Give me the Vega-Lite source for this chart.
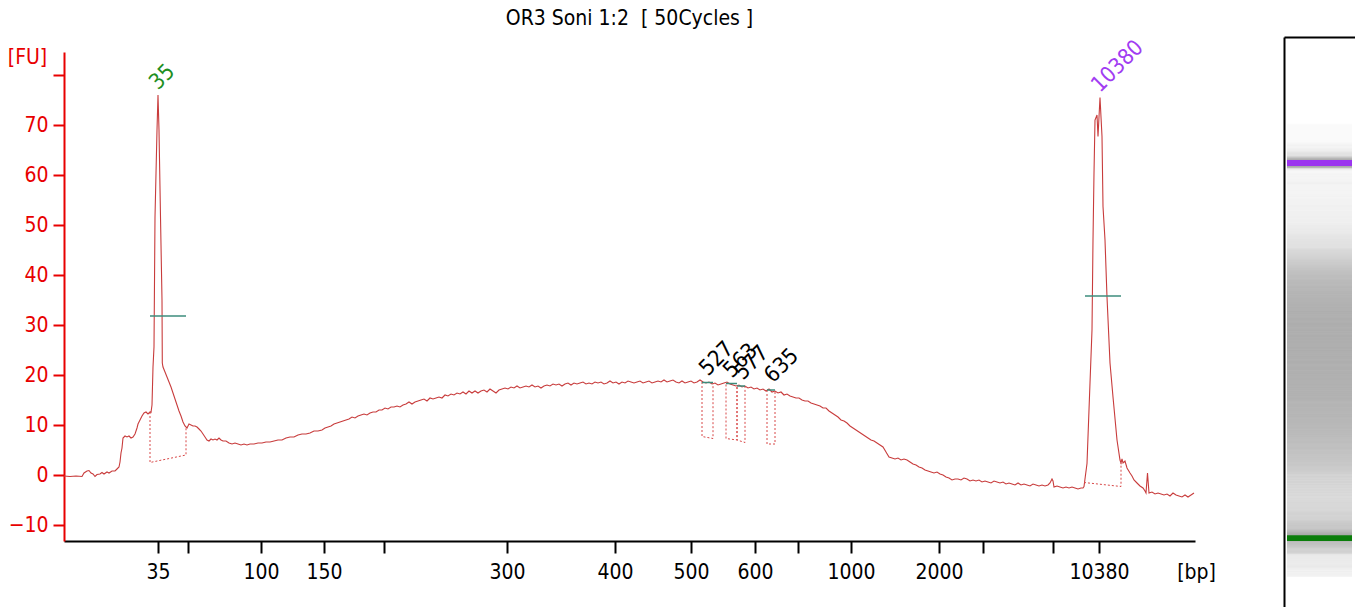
{
  "$schema": "https://vega.github.io/schema/vega-lite/v6.json",
  "description": "Bioanalyzer electropherogram with gel lane",
  "width": 1131,
  "height": 489,
  "autosize": {"type": "none"},
  "padding": {"left": 64, "top": 52, "right": 160, "bottom": 66},
  "title": {
    "text": "OR3 Soni 1:2 \u00a0[ 50Cycles ]",
    "font": "DejaVu Sans Condensed, DejaVu Sans",
    "fontSize": 21,
    "fontWeight": "normal",
    "color": "black",
    "anchor": "middle",
    "offset": 7
  },
  "config": {"view": {"stroke": null}, "axis": {"grid": false}},
  "datasets": {
    "trace": [
      {"t":0,"fu":-0.2},{"t":6,"fu":-0.3},{"t":12,"fu":-0.2},{"t":18,"fu":-0.3},{"t":20,"fu":0.4},{"t":23,"fu":0.8},{"t":25,"fu":0.9},{"t":27,"fu":0.4},{"t":29,"fu":0.2},{"t":31,"fu":-0.3},
      {"t":33,"fu":0.1},{"t":36,"fu":0.2},{"t":38,"fu":0.5},{"t":40,"fu":0.2},{"t":43,"fu":0.6},{"t":45,"fu":0.4},{"t":48,"fu":0.8},{"t":51,"fu":0.8},{"t":53,"fu":1.2},{"t":55,"fu":1.6},
      {"t":56,"fu":2.6},{"t":57,"fu":4.4},{"t":58,"fu":5.4},{"t":59,"fu":7.4},{"t":61,"fu":7.8},{"t":63,"fu":7.6},{"t":65,"fu":7.8},{"t":67,"fu":7.4},{"t":69,"fu":7.6},{"t":71,"fu":8.2},
      {"t":73,"fu":9.4},{"t":74,"fu":10.2},{"t":76,"fu":11.0},{"t":78,"fu":11.8},{"t":80,"fu":12.4},{"t":82,"fu":12.6},{"t":84,"fu":12.2},{"t":86,"fu":12.6},{"t":87,"fu":12.5},{"t":88,"fu":14.0},
      {"t":89,"fu":21.6},{"t":90,"fu":25.6},{"t":91,"fu":51.6},{"t":93,"fu":69.0},{"t":94,"fu":76.0},{"t":95,"fu":69.0},{"t":96.5,"fu":51.6},{"t":98,"fu":35.0},{"t":98.3,"fu":22.4},{"t":99,"fu":21.6},
      {"t":101,"fu":20.6},{"t":103,"fu":19.6},{"t":105,"fu":18.6},{"t":107,"fu":17.6},{"t":109,"fu":16.4},{"t":111,"fu":15.2},{"t":113,"fu":14.0},{"t":115,"fu":12.8},{"t":117,"fu":11.8},{"t":119,"fu":10.6},
      {"t":121,"fu":9.8},{"t":123,"fu":9.4},{"t":124,"fu":9.8},{"t":125,"fu":10.2},{"t":127,"fu":10.0},{"t":129,"fu":9.8},{"t":131,"fu":9.8},{"t":133,"fu":9.6},{"t":135,"fu":9.2},{"t":137,"fu":8.8},
      {"t":139,"fu":8.2},{"t":141,"fu":7.6},{"t":143,"fu":7.0},{"t":145,"fu":6.8},{"t":147,"fu":7.2},{"t":149,"fu":7.0},{"t":151,"fu":7.2},{"t":153,"fu":7.0},{"t":155,"fu":7.4},{"t":157,"fu":7.0},
      {"t":159,"fu":6.8},{"t":162,"fu":6.8},{"t":165,"fu":6.4},{"t":168,"fu":6.2},{"t":171,"fu":6.4},{"t":174,"fu":6.2},{"t":177,"fu":6.0},{"t":180,"fu":6.2},{"t":183,"fu":6.0},{"t":186,"fu":6.2},
      {"t":190,"fu":6.2},{"t":194,"fu":6.4},{"t":198,"fu":6.4},{"t":202,"fu":6.6},{"t":206,"fu":6.6},{"t":210,"fu":6.8},{"t":214,"fu":7.0},{"t":218,"fu":7.0},{"t":222,"fu":7.4},{"t":226,"fu":7.6},
      {"t":230,"fu":7.6},{"t":234,"fu":8.0},{"t":238,"fu":8.2},{"t":242,"fu":8.2},{"t":246,"fu":8.4},{"t":250,"fu":8.8},{"t":254,"fu":8.8},{"t":258,"fu":9.0},{"t":261,"fu":9.4},{"t":264,"fu":9.6},
      {"t":267,"fu":9.8},{"t":270,"fu":10.2},{"t":273,"fu":10.4},{"t":276,"fu":10.6},{"t":279,"fu":10.8},{"t":282,"fu":11.0},{"t":285,"fu":11.2},{"t":288,"fu":11.6},{"t":291,"fu":11.4},{"t":294,"fu":11.8},
      {"t":297,"fu":12.0},{"t":300,"fu":12.2},{"t":303,"fu":12.0},{"t":306,"fu":12.4},{"t":309,"fu":12.6},{"t":312,"fu":12.6},{"t":315,"fu":13.0},{"t":318,"fu":13.0},{"t":321,"fu":13.4},{"t":324,"fu":13.2},
      {"t":327,"fu":13.6},{"t":330,"fu":13.6},{"t":333,"fu":13.8},{"t":336,"fu":13.6},{"t":339,"fu":14.0},{"t":342,"fu":14.2},{"t":345,"fu":14.6},{"t":348,"fu":14.2},{"t":351,"fu":14.6},{"t":354,"fu":14.8},
      {"t":357,"fu":15.0},{"t":360,"fu":15.2},{"t":363,"fu":14.8},{"t":366,"fu":15.4},{"t":369,"fu":15.2},{"t":372,"fu":15.4},{"t":375,"fu":15.6},{"t":378,"fu":15.4},{"t":381,"fu":16.0},{"t":384,"fu":15.8},
      {"t":387,"fu":16.2},{"t":390,"fu":16.0},{"t":393,"fu":16.4},{"t":396,"fu":16.2},{"t":399,"fu":16.6},{"t":402,"fu":16.2},{"t":405,"fu":16.8},{"t":408,"fu":16.4},{"t":411,"fu":16.8},{"t":414,"fu":16.4},
      {"t":417,"fu":16.8},{"t":420,"fu":17.0},{"t":423,"fu":16.6},{"t":426,"fu":17.2},{"t":429,"fu":16.8},{"t":432,"fu":16.4},{"t":435,"fu":17.0},{"t":438,"fu":17.2},{"t":441,"fu":17.4},{"t":444,"fu":17.2},
      {"t":447,"fu":17.6},{"t":450,"fu":17.4},{"t":453,"fu":17.8},{"t":456,"fu":17.4},{"t":459,"fu":17.6},{"t":462,"fu":17.8},{"t":465,"fu":17.6},{"t":468,"fu":18.0},{"t":471,"fu":17.6},{"t":474,"fu":17.8},
      {"t":477,"fu":17.4},{"t":480,"fu":17.8},{"t":483,"fu":18.0},{"t":486,"fu":17.8},{"t":489,"fu":18.2},{"t":492,"fu":18.0},{"t":495,"fu":18.2},{"t":498,"fu":17.8},{"t":501,"fu":18.2},{"t":504,"fu":18.4},
      {"t":507,"fu":18.0},{"t":510,"fu":18.4},{"t":513,"fu":18.2},{"t":516,"fu":18.4},{"t":519,"fu":18.6},{"t":522,"fu":18.2},{"t":525,"fu":18.4},{"t":528,"fu":18.2},{"t":531,"fu":18.6},{"t":534,"fu":18.4},
      {"t":537,"fu":18.6},{"t":540,"fu":18.2},{"t":543,"fu":18.4},{"t":546,"fu":18.8},{"t":549,"fu":18.4},{"t":552,"fu":18.6},{"t":555,"fu":18.2},{"t":558,"fu":18.6},{"t":561,"fu":18.4},{"t":564,"fu":18.8},
      {"t":567,"fu":18.6},{"t":570,"fu":18.4},{"t":573,"fu":18.6},{"t":576,"fu":18.8},{"t":579,"fu":18.4},{"t":582,"fu":18.6},{"t":585,"fu":18.8},{"t":588,"fu":18.4},{"t":591,"fu":18.6},{"t":594,"fu":18.8},
      {"t":597,"fu":18.6},{"t":600,"fu":19.0},{"t":603,"fu":18.6},{"t":606,"fu":18.8},{"t":609,"fu":19.0},{"t":612,"fu":18.6},{"t":615,"fu":18.4},{"t":618,"fu":18.8},{"t":621,"fu":18.4},{"t":624,"fu":18.6},
      {"t":627,"fu":18.8},{"t":630,"fu":18.4},{"t":633,"fu":18.6},{"t":636,"fu":19.0},{"t":639,"fu":18.6},{"t":642,"fu":18.4},{"t":645,"fu":18.6},{"t":648,"fu":18.2},{"t":651,"fu":18.4},{"t":654,"fu":18.0},
      {"t":657,"fu":18.2},{"t":660,"fu":18.4},{"t":663,"fu":18.6},{"t":666,"fu":18.2},{"t":669,"fu":18.0},{"t":672,"fu":17.8},{"t":675,"fu":18.0},{"t":678,"fu":17.6},{"t":681,"fu":17.8},{"t":684,"fu":17.4},
      {"t":687,"fu":17.6},{"t":690,"fu":17.2},{"t":693,"fu":17.4},{"t":696,"fu":17.0},{"t":699,"fu":17.2},{"t":702,"fu":16.8},{"t":705,"fu":17.2},{"t":708,"fu":16.6},{"t":711,"fu":16.8},{"t":714,"fu":16.4},
      {"t":717,"fu":16.6},{"t":720,"fu":16.0},{"t":723,"fu":16.2},{"t":726,"fu":15.8},{"t":729,"fu":15.6},{"t":732,"fu":15.4},{"t":735,"fu":15.4},{"t":738,"fu":15.0},{"t":741,"fu":14.8},{"t":744,"fu":14.8},
      {"t":747,"fu":14.4},{"t":750,"fu":14.2},{"t":753,"fu":14.0},{"t":756,"fu":13.8},{"t":759,"fu":13.4},{"t":762,"fu":13.4},{"t":765,"fu":12.8},{"t":768,"fu":12.4},{"t":771,"fu":12.0},{"t":774,"fu":11.6},
      {"t":777,"fu":11.0},{"t":780,"fu":10.8},{"t":783,"fu":10.4},{"t":786,"fu":9.8},{"t":789,"fu":9.4},{"t":792,"fu":9.0},{"t":795,"fu":8.6},{"t":798,"fu":8.2},{"t":801,"fu":7.8},{"t":804,"fu":7.4},
      {"t":807,"fu":7.0},{"t":810,"fu":6.8},{"t":813,"fu":6.4},{"t":816,"fu":6.0},{"t":819,"fu":5.6},{"t":822,"fu":4.6},{"t":825,"fu":3.6},{"t":828,"fu":3.4},{"t":831,"fu":3.2},{"t":834,"fu":3.4},
      {"t":837,"fu":3.0},{"t":840,"fu":3.2},{"t":843,"fu":3.0},{"t":846,"fu":2.6},{"t":849,"fu":2.2},{"t":852,"fu":2.0},{"t":855,"fu":1.6},{"t":858,"fu":1.4},{"t":861,"fu":1.0},{"t":864,"fu":0.8},
      {"t":867,"fu":0.6},{"t":870,"fu":0.4},{"t":873,"fu":0.6},{"t":876,"fu":0.2},{"t":879,"fu":0.0},{"t":882,"fu":-0.4},{"t":885,"fu":-0.6},{"t":888,"fu":-1.0},{"t":891,"fu":-0.8},{"t":894,"fu":-0.8},
      {"t":897,"fu":-1.0},{"t":900,"fu":-0.6},{"t":903,"fu":-0.8},{"t":906,"fu":-1.2},{"t":909,"fu":-1.0},{"t":912,"fu":-1.2},{"t":915,"fu":-1.0},{"t":918,"fu":-1.4},{"t":921,"fu":-1.2},{"t":924,"fu":-1.4},
      {"t":927,"fu":-1.6},{"t":930,"fu":-1.2},{"t":933,"fu":-1.4},{"t":936,"fu":-1.6},{"t":939,"fu":-1.4},{"t":942,"fu":-1.8},{"t":945,"fu":-1.6},{"t":948,"fu":-1.8},{"t":951,"fu":-2.0},{"t":954,"fu":-1.6},
      {"t":957,"fu":-2.0},{"t":960,"fu":-1.8},{"t":963,"fu":-2.0},{"t":966,"fu":-2.2},{"t":969,"fu":-1.8},{"t":972,"fu":-2.0},{"t":975,"fu":-2.2},{"t":978,"fu":-2.0},{"t":981,"fu":-2.2},{"t":984,"fu":-2.0},
      {"t":986,"fu":-1.6},{"t":988,"fu":-0.8},{"t":989,"fu":-1.2},{"t":990,"fu":-2.4},{"t":993,"fu":-2.2},{"t":996,"fu":-2.4},{"t":999,"fu":-2.6},{"t":1002,"fu":-2.4},{"t":1005,"fu":-2.6},{"t":1008,"fu":-2.4},
      {"t":1011,"fu":-2.6},{"t":1014,"fu":-2.8},{"t":1017,"fu":-2.6},{"t":1019,"fu":-2.6},{"t":1020,"fu":-2.3},{"t":1023,"fu":2.3},{"t":1026,"fu":18.4},{"t":1028,"fu":29.0},{"t":1029,"fu":47.0},{"t":1030,"fu":60.4},
      {"t":1031,"fu":71.0},{"t":1033,"fu":72.0},{"t":1034,"fu":67.7},{"t":1036,"fu":75.5},{"t":1038,"fu":67.7},{"t":1039,"fu":53.7},{"t":1041,"fu":47.0},{"t":1043,"fu":35.6},{"t":1046,"fu":22.4},{"t":1049,"fu":15.6},
      {"t":1053,"fu":7.0},{"t":1056,"fu":3.0},{"t":1057,"fu":2.4},{"t":1058,"fu":3.2},{"t":1059,"fu":2.4},{"t":1061,"fu":2.8},{"t":1063,"fu":1.4},{"t":1066,"fu":0.4},{"t":1068,"fu":-0.2},{"t":1070,"fu":-1.0},
      {"t":1073,"fu":-1.6},{"t":1076,"fu":-2.2},{"t":1079,"fu":-2.6},{"t":1081,"fu":-3.2},{"t":1082,"fu":-3.6},{"t":1083.5,"fu":0.4},{"t":1085,"fu":-3.6},{"t":1088,"fu":-3.4},{"t":1091,"fu":-3.8},{"t":1094,"fu":-3.6},
      {"t":1097,"fu":-3.8},{"t":1100,"fu":-4.0},{"t":1103,"fu":-3.8},{"t":1106,"fu":-4.2},{"t":1109,"fu":-3.6},{"t":1112,"fu":-4.0},{"t":1115,"fu":-4.2},{"t":1118,"fu":-4.4},{"t":1121,"fu":-4.0},{"t":1124,"fu":-4.4},
      {"t":1127,"fu":-4.0},{"t":1130,"fu":-3.6}
    ],
    "baselines": [
      {"peak":"35","ord":1,"t":86,"fu":12.6},{"peak":"35","ord":2,"t":86,"fu":2.5},{"peak":"35","ord":3,"t":122,"fu":4.0},{"peak":"35","ord":4,"t":122,"fu":9.6},
      {"peak":"527","ord":1,"t":638,"fu":18.6},{"peak":"527","ord":2,"t":638,"fu":7.7},{"peak":"527","ord":3,"t":649,"fu":7.3},{"peak":"527","ord":4,"t":649,"fu":18.4},
      {"peak":"563","ord":1,"t":662,"fu":18.1},{"peak":"563","ord":2,"t":662,"fu":7.3},{"peak":"563","ord":3,"t":673,"fu":7.0},{"peak":"563","ord":4,"t":673,"fu":17.8},
      {"peak":"577","ord":1,"t":673,"fu":17.6},{"peak":"577","ord":2,"t":673,"fu":7.0},{"peak":"577","ord":3,"t":681,"fu":6.5},{"peak":"577","ord":4,"t":681,"fu":17.8},
      {"peak":"635","ord":1,"t":703,"fu":17.0},{"peak":"635","ord":2,"t":703,"fu":6.2},{"peak":"635","ord":3,"t":711,"fu":6.2},{"peak":"635","ord":4,"t":711,"fu":16.8},
      {"peak":"10380","ord":1,"t":1020,"fu":-1.5},{"peak":"10380","ord":2,"t":1057,"fu":-2.3},{"peak":"10380","ord":3,"t":1057,"fu":2.4}
    ],
    "halfheights": [
      {"peak":"35","t":86,"t2":122,"fu":31.8},
      {"peak":"527","t":638,"t2":649,"fu":18.5},
      {"peak":"563","t":662,"t2":673,"fu":18.3},
      {"peak":"577","t":673,"t2":681,"fu":17.8},
      {"peak":"635","t":703,"t2":711,"fu":17.0},
      {"peak":"10380","t":1021,"t2":1057,"fu":35.8}
    ],
    "peaks": [
      {"label":"35","kind":"lower","t":94,"fu":76.0},
      {"label":"527","kind":"peak","t":644,"fu":18.8},
      {"label":"563","kind":"peak","t":668,"fu":18.4},
      {"label":"577","kind":"peak","t":679,"fu":18.0},
      {"label":"635","kind":"peak","t":709,"fu":17.4},
      {"label":"10380","kind":"upper","t":1036,"fu":75.5}
    ],
    "region": [
      {"t":256,"kind":"start"},
      {"t":865,"kind":"end"}
    ],
    "markers": [
      {"band":"lower","t0":86,"t1":100},
      {"band":"upper","t0":1028,"t1":1043}
    ]
  },
  "layer": [
    {
      "encoding": {
        "x": {
          "field": "t",
          "type": "quantitative",
          "scale": {"domain": [0, 1131], "nice": false, "zero": false},
          "axis": {
            "values": [94, 124, 197, 260, 320, 443, 551, 627, 691, 734, 787, 875, 919, 989, 1035],
            "labelExpr": "datum.value == 94 ? '35' : datum.value == 197 ? '100' : datum.value == 260 ? '150' : datum.value == 443 ? '300' : datum.value == 551 ? '400' : datum.value == 627 ? '500' : datum.value == 691 ? '600' : datum.value == 787 ? '1000' : datum.value == 875 ? '2000' : datum.value == 1035 ? '10380' : ''",
            "domainColor": "black",
            "domainWidth": 2,
            "tickColor": "black",
            "tickWidth": 2,
            "tickSize": 12,
            "labelFont": "DejaVu Sans Condensed, DejaVu Sans",
            "labelFontSize": 21,
            "labelColor": "black",
            "labelPadding": 8,
            "labelOverlap": false,
            "labelFlush": false,
            "title": "[bp]",
            "titleFont": "DejaVu Sans Condensed, DejaVu Sans",
            "titleFontSize": 21,
            "titleFontWeight": "normal",
            "titleColor": "black",
            "titleX": 1132,
            "titleY": 37,
            "titleAlign": "center",
            "titleBaseline": "alphabetic"
          }
        },
        "y": {
          "field": "fu",
          "type": "quantitative",
          "scale": {"domain": [-13.2, 84.6], "nice": false, "zero": false},
          "axis": {
            "values": [-10, 0, 10, 20, 30, 40, 50, 60, 70, 80],
            "labelExpr": "datum.value == 80 ? '' : datum.label",
            "domainColor": "#e80000",
            "domainWidth": 2,
            "tickColor": "#e80000",
            "tickWidth": 2,
            "tickSize": 11,
            "labelFont": "DejaVu Sans Condensed, DejaVu Sans",
            "labelFontSize": 21,
            "labelColor": "#e80000",
            "labelPadding": 5,
            "title": "[FU]",
            "titleFont": "DejaVu Sans Condensed, DejaVu Sans",
            "titleFontSize": 21,
            "titleFontWeight": "normal",
            "titleColor": "#e80000",
            "titleAngle": 0,
            "titleX": -37,
            "titleY": 5,
            "titleAlign": "center",
            "titleBaseline": "middle"
          }
        }
      },
      "layer": [
        {
          "data": {"name": "region"},
          "mark": {"type": "rule", "strokeDash": [2, 2], "strokeWidth": 1},
          "encoding": {
            "x": {"field": "t", "type": "quantitative"},
            "color": {
              "field": "kind",
              "type": "nominal",
              "scale": {"domain": ["lower", "upper", "peak", "start", "end"], "range": ["#1f8f1f", "#a13cf2", "#000000", "#6f6fd0", "#9a9ab8"]},
              "legend": null
            }
          }
        },
        {
          "data": {"name": "trace"},
          "mark": {"type": "line", "color": "#c83c3c", "strokeWidth": 1.1},
          "encoding": {}
        },
        {
          "data": {"name": "baselines"},
          "mark": {"type": "line", "color": "#d84848", "strokeDash": [2, 2], "strokeWidth": 1},
          "encoding": {
            "detail": {"field": "peak"},
            "order": {"field": "ord"}
          }
        },
        {
          "data": {"name": "halfheights"},
          "mark": {"type": "rule", "color": "#3c8c7c", "strokeWidth": 1.5},
          "encoding": {
            "x2": {"field": "t2"}
          }
        },
        {
          "data": {"name": "peaks"},
          "mark": {
            "type": "text",
            "angle": -45,
            "align": "left",
            "baseline": "alphabetic",
            "dx": 3,
            "dy": -3,
            "font": "DejaVu Sans Condensed, DejaVu Sans",
            "fontSize": 22
          },
          "encoding": {
            "text": {"field": "label"},
            "color": {"field": "kind", "type": "nominal", "legend": null}
          }
        }
      ]
    },
    {
      "encoding": {
        "x": {
          "datum": "lane",
          "type": "nominal",
          "scale": {"type": "band", "range": [1220, 1291], "paddingInner": 0, "paddingOuter": 0.046},
          "axis": {"orient": "top", "offset": 15, "domainColor": "black", "domainWidth": 2, "ticks": false, "labels": false, "title": null}
        },
        "y": {
          "type": "quantitative",
          "scale": {"domain": [-80, 1352], "range": [555, -15], "nice": false, "zero": false},
          "axis": {"orient": "right", "offset": 89, "domainColor": "black", "domainWidth": 2, "ticks": false, "labels": false, "title": null}
        }
      },
      "layer": [
        {
          "data": {"name": "trace"},
          "mark": {"type": "tick", "orient": "horizontal", "size": 65, "thickness": 3},
          "encoding": {
            "y": {"field": "t", "type": "quantitative"},
            "color": {
              "field": "fu",
              "type": "quantitative",
              "scale": {"domain": [-4, 19], "range": ["#fafafa", "#a9a9a9"], "clamp": true},
              "legend": null
            }
          }
        },
        {
          "data": {"name": "markers"},
          "mark": {"type": "rect"},
          "encoding": {
            "y": {"field": "t0", "type": "quantitative"},
            "y2": {"field": "t1"},
            "fill": {
              "field": "band",
              "type": "nominal",
              "scale": {"domain": ["upper", "lower"], "range": ["#9b35ef", "#0a7d0a"]},
              "legend": null
            }
          }
        }
      ]
    }
  ],
  "resolve": {"scale": {"x": "independent", "y": "independent", "color": "independent"}}
}
